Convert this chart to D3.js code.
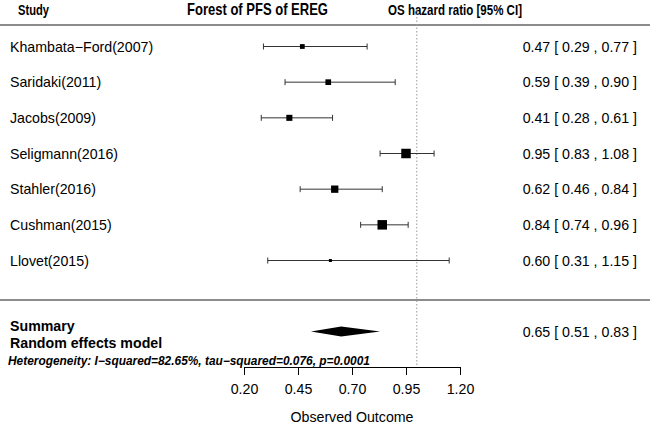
<!DOCTYPE html>
<html>
<head>
<meta charset="utf-8">
<script src="https://cdn.jsdelivr.net/npm/d3@7"></script>
<style>
  html, body { margin: 0; padding: 0; background: #fff; }
  svg { display: block; font-family: "Liberation Sans", Arial, sans-serif; }
  .narrow { font-family: "Liberation Sans", Arial, sans-serif; font-weight: bold; }
</style>
</head>
<body>
<svg id="chart" width="650" height="424"></svg>
<script>
// ---- data ----
const studies = ["Khambata\u2212Ford(2007)", "Saridaki(2011)", "Jacobs(2009)", "Seligmann(2016)", "Stahler(2016)", "Cushman(2015)", "Llovet(2015)"];
const estimates = [0.47, 0.59, 0.41, 0.95, 0.62, 0.84, 0.60];
const lowerCI = [0.29, 0.39, 0.28, 0.83, 0.46, 0.74, 0.31];
const upperCI = [0.77, 0.90, 0.61, 1.08, 0.84, 0.96, 1.15];
const weights = [11.3, 12.8, 13.5, 19.3, 15.6, 19.3, 8.3];
const summaryEst = 0.65, summaryLo = 0.51, summaryHi = 0.83;
const refValue = 1.0;
const tickValues = [0.20, 0.45, 0.70, 0.95, 1.20];
const title = "Forest of PFS of EREG";
const heterogeneity = "Heterogeneity: I\u2212squared=82.65%, tau\u2212squared=0.076, p=0.0001";

// ---- layout ----
const svg = d3.select("#chart");
const x = d3.scaleLinear().domain([0.20, 1.20]).range([244, 460]);
const y = d3.scalePoint().domain(studies).range([46.5, 260.5]);
const size = d3.scaleLinear().domain([d3.min(weights), d3.max(weights)]).range([3, 9.5]);
const fmt = d3.format(".2f");
const fs = 14.2;

// header (condensed look, as in the original)
svg.append("text").attr("class", "narrow").attr("x", 18).attr("y", 14.5).attr("font-size", 14)
  .attr("textLength", 31).attr("lengthAdjust", "spacingAndGlyphs").text("Study");
svg.append("text").attr("class", "narrow").attr("x", 187).attr("y", 15).attr("font-size", 16.5)
  .attr("textLength", 141).attr("lengthAdjust", "spacingAndGlyphs").text(title);
svg.append("text").attr("class", "narrow").attr("x", 388).attr("y", 14.5).attr("font-size", 14)
  .attr("textLength", 134).attr("lengthAdjust", "spacingAndGlyphs").text("OS hazard ratio [95% CI]");

// separators
svg.append("line").attr("x1", 0).attr("x2", 650).attr("y1", 25).attr("y2", 25).attr("stroke", "#666").attr("stroke-width", 1.5);
svg.append("line").attr("x1", 0).attr("x2", 650).attr("y1", 300).attr("y2", 300).attr("stroke", "#666").attr("stroke-width", 1.5);

// reference line
svg.append("line").attr("x1", x(refValue)).attr("x2", x(refValue)).attr("y1", 10).attr("y2", 366)
  .attr("stroke", "#999").attr("stroke-width", 1).attr("stroke-dasharray", "1.5,2");

// study rows
const rows = svg.append("g").selectAll("g").data(studies).join("g");
rows.append("text").attr("x", 10).attr("y", d => y(d) + 5).attr("font-size", fs).text(d => d);
rows.append("line").attr("x1", (d, i) => x(lowerCI[i])).attr("x2", (d, i) => x(upperCI[i]))
  .attr("y1", d => y(d)).attr("y2", d => y(d)).attr("stroke", "#333").attr("stroke-width", 1);
rows.append("line").attr("x1", (d, i) => x(lowerCI[i])).attr("x2", (d, i) => x(lowerCI[i]))
  .attr("y1", d => y(d) - 3).attr("y2", d => y(d) + 3).attr("stroke", "#333").attr("stroke-width", 1);
rows.append("line").attr("x1", (d, i) => x(upperCI[i])).attr("x2", (d, i) => x(upperCI[i]))
  .attr("y1", d => y(d) - 3).attr("y2", d => y(d) + 3).attr("stroke", "#333").attr("stroke-width", 1);
rows.append("rect")
  .attr("x", (d, i) => x(estimates[i]) - size(weights[i]) / 2)
  .attr("y", (d, i) => y(d) - size(weights[i]) / 2)
  .attr("width", (d, i) => size(weights[i]))
  .attr("height", (d, i) => size(weights[i]))
  .attr("fill", "#000");
rows.append("text").attr("x", 637).attr("y", d => y(d) + 5).attr("text-anchor", "end").attr("font-size", fs)
  .text((d, i) => `${fmt(estimates[i])} [ ${fmt(lowerCI[i])} , ${fmt(upperCI[i])} ]`);

// summary
const sy = 331.5;
svg.append("text").attr("x", 10).attr("y", 330.5).attr("font-size", fs).attr("font-weight", "bold").text("Summary");
svg.append("text").attr("x", 10).attr("y", 347.5).attr("font-size", fs).attr("font-weight", "bold").text("Random effects model");
svg.append("path")
  .attr("d", `M${x(summaryLo)},${sy} L${x(summaryEst)},${sy - 5} L${x(summaryHi)},${sy} L${x(summaryEst)},${sy + 5} Z`)
  .attr("fill", "#000");
svg.append("text").attr("x", 637).attr("y", sy + 5).attr("text-anchor", "end").attr("font-size", fs)
  .text(`${fmt(summaryEst)} [ ${fmt(summaryLo)} , ${fmt(summaryHi)} ]`);
svg.append("text").attr("x", 8).attr("y", 365).attr("font-size", 11.9).attr("font-weight", "bold").attr("font-style", "italic").text(heterogeneity);

// axis
const axis = d3.axisBottom(x).tickValues(tickValues).tickFormat(fmt).tickSize(8).tickPadding(9);
const ag = svg.append("g").attr("transform", "translate(0,367)").call(axis);
ag.select(".domain").attr("stroke", "#000");
ag.selectAll(".tick line").attr("stroke", "#000");
ag.selectAll(".tick text").attr("font-size", fs).attr("font-family", "Liberation Sans, Arial, sans-serif").attr("fill", "#000");
svg.append("text").attr("x", x(0.70)).attr("y", 422).attr("text-anchor", "middle").attr("font-size", fs).text("Observed Outcome");
</script>
</body>
</html>
